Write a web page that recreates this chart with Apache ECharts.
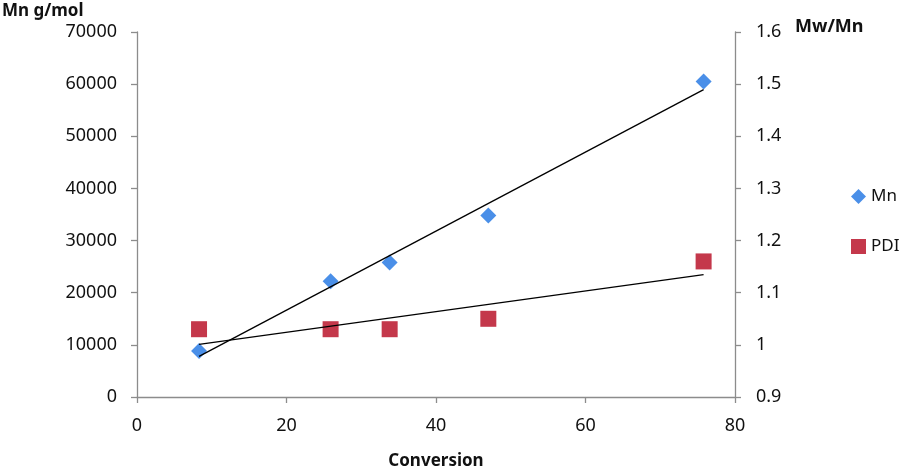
<!DOCTYPE html>
<html><head><meta charset="utf-8">
<script src="https://cdn.jsdelivr.net/npm/echarts@6/dist/echarts.min.js"></script>
<style>html,body{margin:0;padding:0;background:#fff}#c{width:900px;height:468px}</style>
</head><body><div id="c"></div>
<script>
const conversion = [8.3, 25.9, 33.8, 47.0, 75.8];
const mnValues = [8800, 22200, 25800, 34800, 60500];
const pdiValues = [1.03, 1.03, 1.03, 1.05, 1.16];
const xTicks = [0, 20, 40, 60, 80];
const leftTicks = [0, 10000, 20000, 30000, 40000, 50000, 60000, 70000];
const rightTicks = [0.9, 1.0, 1.1, 1.2, 1.3, 1.4, 1.5, 1.6];

function linFit(xs, ys) {
  const n = xs.length;
  const mx = xs.reduce((a, b) => a + b, 0) / n;
  const my = ys.reduce((a, b) => a + b, 0) / n;
  let sxy = 0, sxx = 0;
  for (let i = 0; i < n; i++) { sxy += (xs[i] - mx) * (ys[i] - my); sxx += (xs[i] - mx) ** 2; }
  const k = sxy / sxx, b = my - k * mx;
  const x0 = Math.min(...xs), x1 = Math.max(...xs);
  return [[x0, k * x0 + b], [x1, k * x1 + b]];
}

const font = '"Noto Sans", sans-serif';
const axisCol = '#8c8c8c';
const chart = echarts.init(document.getElementById('c'));
chart.setOption({
  animation: false,
  backgroundColor: '#fff',
  grid: { left: 137, right: 165, top: 32, bottom: 71, outerBoundsMode: 'none', containLabel: false },
  legend: {
    data: ['Mn', 'PDI'], orient: 'vertical', left: 846, top: 183,
    itemWidth: 15, itemHeight: 15, itemGap: 33,
    textStyle: { fontFamily: font, fontSize: 17, color: '#111' }
  },
  graphic: [
    { type: 'text', left: 2, top: 3, style: { text: 'Mn g/mol', font: 'bold 17px "Noto Sans"', fill: '#111' } },
    { type: 'text', left: 795, top: 18, style: { text: 'Mw/Mn', font: 'bold 18px "Noto Sans"', fill: '#111' } }
  ],
  xAxis: {
    type: 'value', min: xTicks[0], max: xTicks[xTicks.length - 1], interval: 20,
    name: 'Conversion', nameLocation: 'middle', nameGap: 56,
    nameTextStyle: { fontFamily: font, fontSize: 17, fontWeight: 'bold', color: '#111' },
    axisLine: { show: true, lineStyle: { color: axisCol, width: 1.3 } },
    axisTick: { show: true, length: 6, lineStyle: { color: axisCol, width: 1.3 } },
    axisLabel: { fontFamily: font, fontSize: 18, color: '#111', margin: 20 },
    splitLine: { show: false }
  },
  yAxis: [
    {
      type: 'value', min: leftTicks[0], max: leftTicks[leftTicks.length - 1], interval: 10000,
      axisLine: { show: true, lineStyle: { color: axisCol, width: 1.3 } },
      axisTick: { show: true, length: 6, lineStyle: { color: axisCol, width: 1.3 } },
      axisLabel: { fontFamily: font, fontSize: 18, color: '#111', margin: 20, formatter: v => String(v) },
      splitLine: { show: false }
    },
    {
      type: 'value', min: rightTicks[0], max: rightTicks[rightTicks.length - 1], interval: 0.1,
      position: 'right',
      axisLine: { show: true, lineStyle: { color: axisCol, width: 1.3 } },
      axisTick: { show: true, length: 6, lineStyle: { color: axisCol, width: 1.3 } },
      axisLabel: { fontFamily: font, fontSize: 18, color: '#111', margin: 21,
        formatter: v => (Math.abs(v - 1) < 1e-9 ? '1' : v.toFixed(1)) },
      splitLine: { show: false }
    }
  ],
  series: [
    {
      name: 'Mn trend', type: 'line', yAxisIndex: 0, data: linFit(conversion, mnValues),
      symbol: 'none', lineStyle: { color: '#000', width: 1.3 }, z: 3, silent: true
    },
    {
      name: 'PDI trend', type: 'line', yAxisIndex: 1, data: linFit(conversion, pdiValues),
      symbol: 'none', lineStyle: { color: '#000', width: 1.3 }, z: 3, silent: true
    },
    {
      name: 'Mn', type: 'scatter', yAxisIndex: 0,
      data: conversion.map((x, i) => [x, mnValues[i]]),
      symbol: 'diamond', symbolSize: 16, itemStyle: { color: '#4a8fe8', opacity: 1 }, z: 2
    },
    {
      name: 'PDI', type: 'scatter', yAxisIndex: 1,
      data: conversion.map((x, i) => [x, pdiValues[i]]),
      symbol: 'rect', symbolSize: 16, itemStyle: { color: '#c4384b', opacity: 1 }, z: 2
    }
  ]
});
</script></body></html>
